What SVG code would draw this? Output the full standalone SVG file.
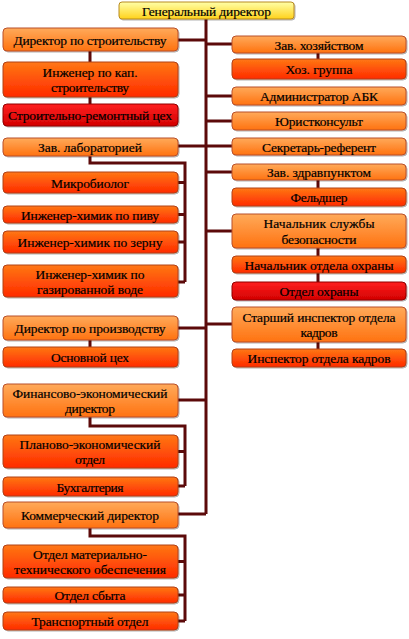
<svg xmlns="http://www.w3.org/2000/svg" width="409" height="639" viewBox="0 0 409 639">
<defs>
<linearGradient id="gY" x1="0" y1="0" x2="0" y2="1"><stop offset="0" stop-color="#ffffa8"/><stop offset="1" stop-color="#ffd21a"/></linearGradient>
<linearGradient id="gO" x1="0" y1="0" x2="0" y2="1"><stop offset="0" stop-color="#ffaa5a"/><stop offset="1" stop-color="#ff7210"/></linearGradient>
<linearGradient id="gR" x1="0" y1="0" x2="0" y2="1"><stop offset="0" stop-color="#ff7814"/><stop offset="1" stop-color="#ff2a00"/></linearGradient>
<linearGradient id="gD" x1="0" y1="0" x2="0" y2="1"><stop offset="0" stop-color="#ff2020"/><stop offset="1" stop-color="#d20000"/></linearGradient>
<filter id="sh" x="-5%" y="-20%" width="110%" height="150%"><feDropShadow dx="1" dy="1" stdDeviation="0.7" flood-color="#000" flood-opacity="0.3"/></filter>
</defs>
<style>
rect{stroke-width:1;filter:url(#sh)}
.y{fill:url(#gY);stroke:#b88a20}
.o{fill:url(#gO);stroke:#b8502a}
.r{fill:url(#gR);stroke:#b04018}
.d{fill:url(#gD);stroke:#900000}
text{font-family:'Liberation Serif','Times New Roman',serif;font-size:13.5px;fill:#000;stroke:#000;stroke-width:0.2;text-anchor:middle}
#connectors path{fill:none;stroke:#5c0a0a;stroke-width:3;stroke-linejoin:miter}
</style>
<g id="connectors">
<path d="M206 19V514"/>
<path d="M178 40H206M178 146H206M178 328H206M178 400H206M178 514H206"/>
<path d="M206 44H232M206 96H232M206 121H232M206 146H232M206 172H232M206 231H232M206 324H232"/>
<path d="M90 51V62M90 97V104M90 340V347"/>
<path d="M318 53V59M318 180V188M318 248V256M318 273V282M318 342V349"/>
<path d="M90 156V163H185V282M178 182.5H185M178 214.5H185M178 242H185M178 282H185"/>
<path d="M90 417V426H185V486M178 451.5H185M178 486H185"/>
<path d="M90 528V536H185V621M178 561.5H185M178 595H185M178 621H185"/>
</g>
<g id="gen"><rect class="y" x="119" y="2" width="175" height="17" rx="3"/><text x="206.5" y="15.5" textLength="129" lengthAdjust="spacing">Генеральный директор</text></g>
<g id="dir_str"><rect class="o" x="3" y="28" width="175" height="23" rx="4"/><text x="90" y="44.5" textLength="153" lengthAdjust="spacing">Директор по строительству</text></g>
<g id="ing_kap"><rect class="r" x="3" y="62" width="175" height="35" rx="4"/><text x="90" y="76.5" textLength="95" lengthAdjust="spacing">Инженер по кап.</text><text x="90" y="92" textLength="78" lengthAdjust="spacing">строительству</text></g>
<g id="str_rem"><rect class="d" x="3" y="104" width="175" height="22" rx="4"/><text x="90" y="120" textLength="164" lengthAdjust="spacing">Строительно-ремонтный цех</text></g>
<g id="zav_hoz"><rect class="o" x="232" y="36" width="174" height="17" rx="4"/><text x="319" y="49.5" textLength="89" lengthAdjust="spacing">Зав. хозяйством</text></g>
<g id="hoz_gr"><rect class="r" x="232" y="59" width="174" height="20" rx="4"/><text x="319" y="74" textLength="67" lengthAdjust="spacing">Хоз. группа</text></g>
<g id="admin"><rect class="o" x="232" y="87" width="174" height="18" rx="4"/><text x="319" y="101" textLength="118" lengthAdjust="spacing">Администратор АБК</text></g>
<g id="jurist"><rect class="o" x="232" y="112" width="174" height="18" rx="4"/><text x="319" y="126" textLength="88" lengthAdjust="spacing">Юристконсульт</text></g>
<g id="zav_lab"><rect class="o" x="3" y="138" width="175" height="18" rx="4"/><text x="90" y="152" textLength="104" lengthAdjust="spacing">Зав. лабораторией</text></g>
<g id="sekr"><rect class="o" x="232" y="138" width="174" height="17" rx="4"/><text x="319" y="151.5" textLength="114" lengthAdjust="spacing">Секретарь-референт</text></g>
<g id="mikro"><rect class="r" x="3" y="172" width="175" height="21" rx="4"/><text x="90" y="187.5" textLength="78" lengthAdjust="spacing">Микробиолог</text></g>
<g id="zav_zdr"><rect class="o" x="232" y="164" width="174" height="16" rx="4"/><text x="319" y="177" textLength="104" lengthAdjust="spacing">Зав. здравпунктом</text></g>
<g id="feld"><rect class="r" x="232" y="188" width="174" height="18" rx="4"/><text x="319" y="202" textLength="57" lengthAdjust="spacing">Фельдшер</text></g>
<g id="ing_pivo"><rect class="r" x="3" y="206" width="175" height="17" rx="4"/><text x="90" y="219.5" textLength="138" lengthAdjust="spacing">Инженер-химик  по пиву</text></g>
<g id="ing_zerno"><rect class="r" x="3" y="231" width="175" height="22" rx="4"/><text x="90" y="247" textLength="145" lengthAdjust="spacing">Инженер-химик  по зерну</text></g>
<g id="nach_sb"><rect class="o" x="232" y="214" width="174" height="34" rx="4"/><text x="319" y="228" textLength="111" lengthAdjust="spacing">Начальник службы</text><text x="319" y="243.5" textLength="75" lengthAdjust="spacing">безопасности</text></g>
<g id="nach_oh"><rect class="r" x="232" y="256" width="174" height="17" rx="4"/><text x="319" y="269.5" textLength="149" lengthAdjust="spacing">Начальник отдела охраны</text></g>
<g id="ing_gaz"><rect class="r" x="3" y="265" width="175" height="32" rx="4"/><text x="90" y="278.5" textLength="109" lengthAdjust="spacing">Инженер-химик  по</text><text x="90" y="294" textLength="106" lengthAdjust="spacing">газированной воде</text></g>
<g id="otd_oh"><rect class="d" x="232" y="282" width="174" height="18" rx="4"/><text x="319" y="296" textLength="79" lengthAdjust="spacing">Отдел  охраны</text></g>
<g id="st_insp"><rect class="o" x="232" y="307" width="174" height="35" rx="4"/><text x="319" y="321.5" textLength="153" lengthAdjust="spacing">Старший инспектор отдела</text><text x="319" y="337" textLength="37" lengthAdjust="spacing">кадров</text></g>
<g id="insp"><rect class="r" x="232" y="349" width="174" height="18" rx="4"/><text x="319" y="363" textLength="143" lengthAdjust="spacing">Инспектор  отдела кадров</text></g>
<g id="dir_pr"><rect class="o" x="3" y="316" width="175" height="24" rx="4"/><text x="90" y="333" textLength="151" lengthAdjust="spacing">Директор по производству</text></g>
<g id="osn"><rect class="r" x="3" y="347" width="175" height="20" rx="4"/><text x="90" y="362" textLength="78" lengthAdjust="spacing">Основной цех</text></g>
<g id="fin"><rect class="o" x="3" y="384" width="175" height="33" rx="4"/><text x="90" y="397.5" textLength="155" lengthAdjust="spacing">Финансово-экономический</text><text x="90" y="413" textLength="50" lengthAdjust="spacing">директор</text></g>
<g id="plan"><rect class="r" x="3" y="435" width="175" height="33" rx="4"/><text x="90" y="448.5" textLength="141" lengthAdjust="spacing">Планово-экономический</text><text x="90" y="464" textLength="30" lengthAdjust="spacing">отдел</text></g>
<g id="buh"><rect class="r" x="3" y="477" width="175" height="19" rx="4"/><text x="90" y="491.5" textLength="67" lengthAdjust="spacing">Бухгалтерия</text></g>
<g id="kom"><rect class="o" x="3" y="502" width="175" height="26" rx="4"/><text x="90" y="520" textLength="138" lengthAdjust="spacing">Коммерческий директор</text></g>
<g id="mto"><rect class="r" x="3" y="545" width="175" height="33" rx="4"/><text x="90" y="558.5" textLength="114" lengthAdjust="spacing">Отдел  материально-</text><text x="90" y="574" textLength="152" lengthAdjust="spacing">технического  обеспечения</text></g>
<g id="sbyt"><rect class="r" x="3" y="587" width="175" height="16" rx="4"/><text x="90" y="600" textLength="71" lengthAdjust="spacing">Отдел  сбыта</text></g>
<g id="trans"><rect class="r" x="3" y="612" width="175" height="18" rx="4"/><text x="90" y="626" textLength="117" lengthAdjust="spacing">Транспортный отдел</text></g>
</svg>
